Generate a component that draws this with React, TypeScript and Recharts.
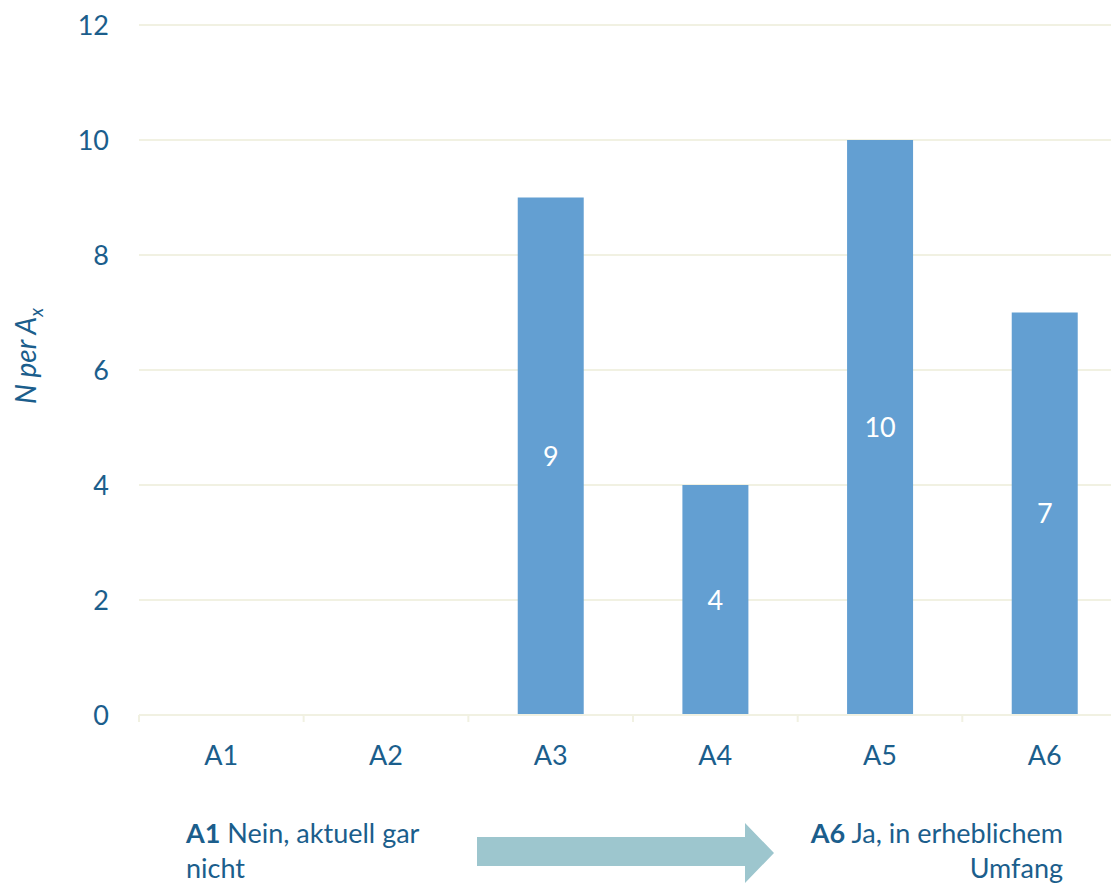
import React from 'react';
import { BarChart, Bar, XAxis, YAxis, CartesianGrid, LabelList } from 'recharts';

const categories = ['A1', 'A2', 'A3', 'A4', 'A5', 'A6'];
const counts = [0, 0, 9, 4, 10, 7];
const yTicks = [0, 2, 4, 6, 8, 10, 12];

const data = categories.map((name, i) => ({ name, count: counts[i] }));

const W = 1111;
const H = 883;
const PLOT_LEFT = 139;
const PLOT_RIGHT = 1127; // plot runs a bit past the page edge
const HALF_BAND = (PLOT_RIGHT - PLOT_LEFT) / categories.length / 2;
const TEXT = '#1B5E8C';
const GRID = '#F1F1E2';
const FONT = 'Lato, "Open Sans", sans-serif';

const XTick = (props: any) => {
  const { x, y, payload } = props;
  return (
    <g>
      <line x1={x - HALF_BAND} y1={y} x2={x - HALF_BAND} y2={y + 7} stroke={GRID} strokeWidth={2} />
      <text x={x} y={y + 50} textAnchor="middle" fill={TEXT} fontSize={27} fontFamily={FONT}>
        {payload.value}
      </text>
    </g>
  );
};

const YLabel = () => (
  <text
    transform="translate(36, 356) rotate(-90)"
    textAnchor="middle"
    fill={TEXT}
    fontSize={28}
    fontStyle="italic"
    fontFamily={FONT}
  >
    N per A<tspan fontSize={19} dy={7}>x</tspan>
  </text>
);

export default function App() {
  return (
    <div style={{ position: 'absolute', left: 0, top: 0, width: W, height: H, background: '#fff', fontFamily: FONT }}>
      <BarChart
        width={W}
        height={H}
        data={data}
        margin={{ top: 25, right: W - PLOT_RIGHT, bottom: 108, left: 0 }}
        barCategoryGap="30%"
      >
        <CartesianGrid vertical={false} stroke={GRID} strokeWidth={2} />
        <XAxis
          dataKey="name"
          axisLine={{ stroke: GRID, strokeWidth: 2 }}
          tickLine={false}
          tickSize={0}
          tickMargin={0}
          height={60}
          tick={<XTick />}
          interval={0}
        />
        <YAxis
          domain={[0, 12]}
          ticks={yTicks}
          width={PLOT_LEFT}
          axisLine={false}
          tickLine={false}
          tickSize={0}
          tickMargin={30}
          tick={{ fill: TEXT, fontSize: 27, fontFamily: FONT }}
          label={<YLabel />}
        />
        <Bar dataKey="count" fill="#639FD2" isAnimationActive={false}>
          <LabelList
            dataKey="count"
            position="center"
            fill="#ffffff"
            fontSize={27}
            fontFamily={FONT}
            formatter={(v: any) => (v ? v : '')}
          />
        </Bar>
      </BarChart>

      <div style={{ position: 'absolute', left: 186, top: 815, color: TEXT, fontSize: 27, lineHeight: '35px', whiteSpace: 'nowrap' }}>
        <b>A1</b> Nein, aktuell gar
        <br />
        nicht
      </div>
      <svg style={{ position: 'absolute', left: 470, top: 820 }} width={310} height={63}>
        <polygon points="7,17 275,17 275,3 304,33 275,63 275,46 7,46" fill="#9DC6CE" />
      </svg>
      <div
        style={{
          position: 'absolute',
          right: W - 1063,
          top: 815,
          color: TEXT,
          fontSize: 27,
          lineHeight: '35px',
          textAlign: 'right',
          whiteSpace: 'nowrap',
        }}
      >
        <b>A6</b> Ja, in erheblichem
        <br />
        Umfang
      </div>
    </div>
  );
}
